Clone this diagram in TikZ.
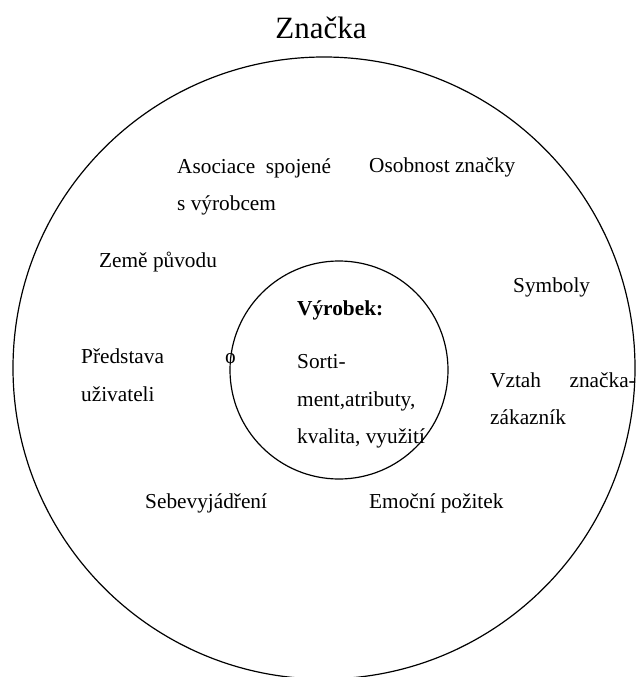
\documentclass[tikz,border=0pt]{standalone}
\usepackage{fontspec}
\setmainfont{Liberation Serif}
\begin{document}
\begin{tikzpicture}[x=1pt,y=-1pt,
  txt/.style={inner sep=0pt, anchor=base west, font=\fontsize{21.3}{25}\selectfont},
  ring/.style={circle, draw, line width=1.2pt, inner sep=0pt}]
\useasboundingbox (0,0) rectangle (641,677);
\clip (0,0) rectangle (641,677);
\node[ring, minimum size=622pt] (outer) at (324,368) {};
\node[ring, minimum size=218pt] (inner) at (339,370) {};
\node[inner sep=0pt, anchor=base, font=\fontsize{31}{35}\selectfont] (title) at (321,39) {Značka};
\node[txt] (as1) at (177,173) {Asociace\ \ spojené};
\node[txt] (as2) at (177,210) {s výrobcem};
\node[txt] (os) at (369,172) {Osobnost značky};
\node[txt] (zeme) at (99,267) {Země původu};
\node[txt] (sym) at (513,292) {Symboly};
\node[txt, font=\fontsize{21.3}{25}\selectfont\bfseries] (vyr) at (297,315) {Výrobek:};
\node[txt] (s1) at (297,368) {Sorti-};
\node[txt] (s2) at (297,406) {ment,atributy,};
\node[txt] (s3) at (297,443) {kvalita, využití};
\node[txt] (pr1) at (81,363) {Představa};
\node[txt] (pro) at (225,363) {o};
\node[txt] (pr2) at (81,401) {uživateli};
\node[txt] (vz1) at (490,387) {Vztah};
\node[txt, anchor=base east] (vz2) at (636,387) {značka-};
\node[txt] (vz3) at (490,424) {zákazník};
\node[txt] (seb) at (145,508) {Sebevyjádření};
\node[txt] (emo) at (369,508) {Emoční požitek};
\end{tikzpicture}
\end{document}
